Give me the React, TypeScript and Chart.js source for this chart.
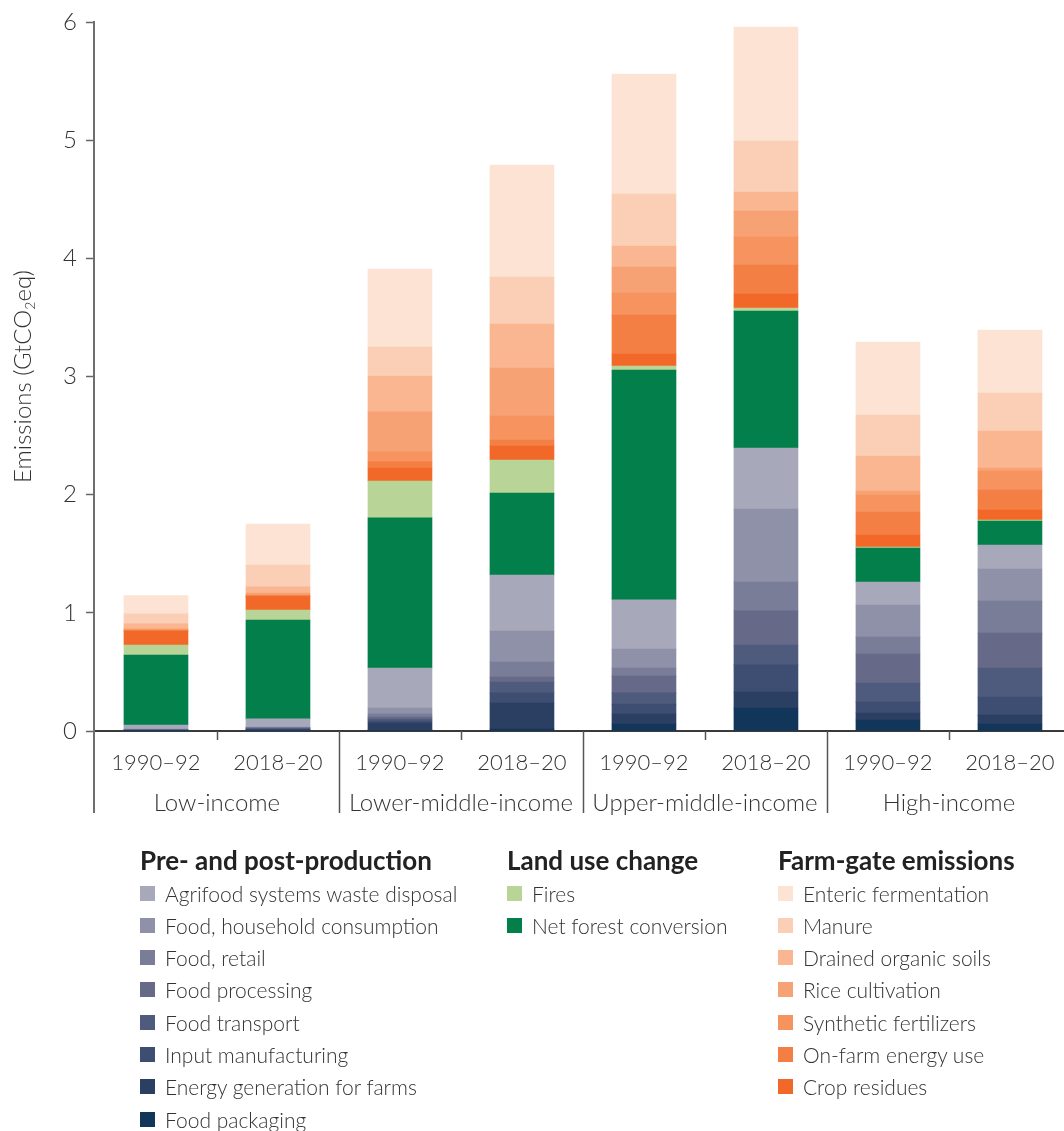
import React, { useEffect, useRef } from 'react';
import { Chart, registerables } from 'chart.js';

Chart.register(...registerables);

// ---- categories ----
const PERIODS = ['1990–92', '2018–20', '1990–92', '2018–20', '1990–92', '2018–20', '1990–92', '2018–20'];
const GROUPS = ['Low-income', 'Lower-middle-income', 'Upper-middle-income', 'High-income'];
const Y_TICKS = [0, 1, 2, 3, 4, 5, 6];

// ---- series values (GtCO2eq), order: Low, Lower-middle, Upper-middle, High ----
const foodPackaging = [0.002, 0.004, 0.013, 0.017, 0.059, 0.195, 0.093, 0.059];
const energyGeneration = [0.002, 0.005, 0.055, 0.22, 0.085, 0.135, 0.059, 0.076];
const inputManufacturing = [0.002, 0.005, 0.017, 0.085, 0.084, 0.229, 0.093, 0.153];
const foodTransport = [0.002, 0.006, 0.016, 0.093, 0.094, 0.169, 0.161, 0.245];
const foodProcessing = [0.003, 0.006, 0.017, 0.042, 0.143, 0.288, 0.246, 0.296];
const foodRetail = [0.002, 0.004, 0.026, 0.127, 0.068, 0.245, 0.143, 0.271];
const householdConsumption = [0.004, 0.004, 0.051, 0.262, 0.161, 0.618, 0.271, 0.271];
const wasteDisposal = [0.034, 0.068, 0.338, 0.474, 0.415, 0.516, 0.195, 0.203];
const netForestConversion = [0.592, 0.837, 1.27, 0.694, 1.946, 1.159, 0.288, 0.203];
const fires = [0.085, 0.085, 0.313, 0.279, 0.034, 0.026, 0.008, 0.008];
const cropResidues = [0.116, 0.113, 0.11, 0.119, 0.101, 0.118, 0.102, 0.085];
const onFarmEnergy = [0.007, 0.008, 0.051, 0.051, 0.33, 0.245, 0.194, 0.169];
const syntheticFertilizers = [0.007, 0.01, 0.085, 0.203, 0.187, 0.237, 0.144, 0.161];
const riceCultivation = [0.006, 0.013, 0.338, 0.406, 0.22, 0.22, 0.034, 0.026];
const drainedOrganicSoils = [0.042, 0.051, 0.304, 0.372, 0.177, 0.161, 0.296, 0.313];
const manure = [0.085, 0.186, 0.245, 0.398, 0.44, 0.432, 0.347, 0.321];
const entericFermentation = [0.155, 0.347, 0.66, 0.948, 1.016, 0.965, 0.618, 0.533];

// stacking order bottom -> top
const SERIES = [
  { label: 'Food packaging', data: foodPackaging, color: '#12365a' },
  { label: 'Energy generation for farms', data: energyGeneration, color: '#2b3f63' },
  { label: 'Input manufacturing', data: inputManufacturing, color: '#3d4e72' },
  { label: 'Food transport', data: foodTransport, color: '#4f5b7c' },
  { label: 'Food processing', data: foodProcessing, color: '#666a88' },
  { label: 'Food, retail', data: foodRetail, color: '#7a7d98' },
  { label: 'Food, household consumption', data: householdConsumption, color: '#8f91a8' },
  { label: 'Agrifood systems waste disposal', data: wasteDisposal, color: '#a7a8ba' },
  { label: 'Net forest conversion', data: netForestConversion, color: '#027f4b' },
  { label: 'Fires', data: fires, color: '#b8d496' },
  { label: 'Crop residues', data: cropResidues, color: '#f26829' },
  { label: 'On-farm energy use', data: onFarmEnergy, color: '#f47f45' },
  { label: 'Synthetic fertilizers', data: syntheticFertilizers, color: '#f6935f' },
  { label: 'Rice cultivation', data: riceCultivation, color: '#f7a274' },
  { label: 'Drained organic soils', data: drainedOrganicSoils, color: '#f9b690' },
  { label: 'Manure', data: manure, color: '#fbcfb5' },
  { label: 'Enteric fermentation', data: entericFermentation, color: '#fde3d4' },
];

const LEGEND_COLUMNS = [
  {
    title: 'Pre- and post-production',
    left: 140,
    items: [
      'Agrifood systems waste disposal',
      'Food, household consumption',
      'Food, retail',
      'Food processing',
      'Food transport',
      'Input manufacturing',
      'Energy generation for farms',
      'Food packaging',
    ],
  },
  { title: 'Land use change', left: 507, items: ['Fires', 'Net forest conversion'] },
  {
    title: 'Farm-gate emissions',
    left: 778,
    items: [
      'Enteric fermentation',
      'Manure',
      'Drained organic soils',
      'Rice cultivation',
      'Synthetic fertilizers',
      'On-farm energy use',
      'Crop residues',
    ],
  },
];

const FONT = 'Lato, "Open Sans", "DejaVu Sans", sans-serif';
const TEXT = '#333333';

const colorOf = (label: string) => SERIES.find((s) => s.label === label)!.color;

const decoPlugin = {
  id: 'deco',
  afterDraw(chart: any) {
    const ctx = chart.ctx as CanvasRenderingContext2D;
    const xs = chart.scales.x;
    const area = chart.chartArea;
    const bottom = area.bottom;
    ctx.save();
    // group separators (left one continues the y axis)
    ctx.strokeStyle = '#6e6e6e';
    ctx.lineWidth = 2;
    ctx.beginPath();
    ctx.moveTo(area.left, bottom);
    ctx.lineTo(area.left, bottom + 82);
    ctx.stroke();
    ctx.lineWidth = 1.5;
    ctx.strokeStyle = '#555555';
    [1.5, 3.5, 5.5].forEach((v) => {
      const px = Math.round(xs.getPixelForValue(v)) + 0.5;
      ctx.beginPath();
      ctx.moveTo(px, bottom);
      ctx.lineTo(px, bottom + 82);
      ctx.stroke();
    });
    // short ticks between periods
    [0.5, 2.5, 4.5, 6.5].forEach((v) => {
      const px = Math.round(xs.getPixelForValue(v)) + 0.5;
      ctx.beginPath();
      ctx.moveTo(px, bottom);
      ctx.lineTo(px, bottom + 9);
      ctx.stroke();
    });
    // group labels
    ctx.fillStyle = TEXT;
    ctx.font = `300 24px ${FONT}`;
    ctx.textAlign = 'center';
    ctx.textBaseline = 'middle';
    GROUPS.forEach((g, i) => {
      ctx.fillText(g, xs.getPixelForValue(0.5 + 2 * i), bottom + 72);
    });
    // y axis title with subscript
    const cy = (area.top + area.bottom) / 2;
    ctx.translate(23, cy);
    ctx.rotate(-Math.PI / 2);
    const big = `300 24px ${FONT}`;
    const small = `300 14px ${FONT}`;
    const p1 = 'Emissions (GtCO';
    const p2 = '2';
    const p3 = 'eq)';
    ctx.font = big;
    const w1 = ctx.measureText(p1).width;
    const w3 = ctx.measureText(p3).width;
    ctx.font = small;
    const w2 = ctx.measureText(p2).width;
    const total = w1 + w2 + w3;
    let x0 = -total / 2;
    ctx.textAlign = 'left';
    ctx.font = big;
    ctx.fillText(p1, x0, 0);
    x0 += w1;
    ctx.font = small;
    ctx.fillText(p2, x0, 7);
    x0 += w2;
    ctx.font = big;
    ctx.fillText(p3, x0, 0);
    ctx.restore();
  },
};

function EmissionsChart() {
  const ref = useRef<HTMLCanvasElement | null>(null);
  useEffect(() => {
    if (!ref.current) return;
    const chart = new Chart(ref.current, {
      type: 'bar',
      data: {
        datasets: SERIES.map((s) => ({
          label: s.label,
          data: s.data.map((v, i) => ({ x: i, y: v })),
          backgroundColor: s.color,
          borderWidth: 0,
          barThickness: 64,
        })),
      },
      options: {
        responsive: false,
        animation: false,
        devicePixelRatio: 1,
        layout: { padding: { top: 22, left: 0, right: 0, bottom: 0 } },
        plugins: { legend: { display: false }, tooltip: { enabled: false } },
        scales: {
          x: {
            type: 'linear',
            stacked: true,
            offset: false,
            min: -0.508,
            max: 7.443,
            afterFit: (axis: any) => {
              axis.height = 99;
              axis.paddingLeft = 0;
              axis.paddingRight = 0;
            },
            afterBuildTicks: (axis: any) => {
              axis.ticks = PERIODS.map((_, i) => ({ value: i }));
            },
            grid: { display: false, drawTicks: false, offset: false },
            border: { display: true, color: '#3a3a3a', width: 2 },
            ticks: {
              autoSkip: false,
              maxRotation: 0,
              padding: 19,
              color: TEXT,
              font: { family: FONT, size: 22, weight: '300' as any },
              callback: (v: any) => PERIODS[Math.round(Number(v))] ?? '',
            },
          },
          y: {
            stacked: true,
            min: 0,
            max: 6,
            afterFit: (axis: any) => {
              axis.width = 94;
              axis.paddingTop = 0;
              axis.paddingBottom = 0;
            },
            afterBuildTicks: (axis: any) => {
              axis.ticks = Y_TICKS.map((v) => ({ value: v }));
            },
            grid: {
              display: true,
              drawOnChartArea: false,
              drawTicks: true,
              tickLength: 8,
              tickWidth: 1.5,
              tickColor: '#666666',
            },
            border: { display: true, color: '#6e6e6e', width: 2 },
            ticks: {
              padding: 9,
              color: TEXT,
              font: { family: FONT, size: 24, weight: '300' as any },
              callback: (v: any) => String(v),
            },
          },
        },
      },
      plugins: [decoPlugin],
    });
    return () => chart.destroy();
  }, []);
  return (
    <canvas
      ref={ref}
      width={1064}
      height={830}
      style={{ position: 'absolute', left: 0, top: 0, width: 1064, height: 830 }}
    />
  );
}

function Legend() {
  const rowTop = (i: number) => 893 + 32.3 * i;
  return (
    <div style={{ position: 'absolute', left: 0, top: 0, width: 1064, height: 1131, pointerEvents: 'none' }}>
      {LEGEND_COLUMNS.map((col) => (
        <React.Fragment key={col.title}>
          <div
            style={{
              position: 'absolute',
              left: col.left,
              top: 845,
              height: 30,
              lineHeight: '30px',
              fontFamily: FONT,
              fontWeight: 700,
              fontSize: 26,
              color: '#222222',
              whiteSpace: 'nowrap',
            }}
          >
            {col.title}
          </div>
          {col.items.map((item, i) => (
            <div
              key={item}
              style={{
                position: 'absolute',
                left: col.left,
                top: rowTop(i) - 13,
                height: 26,
                display: 'flex',
                alignItems: 'center',
                whiteSpace: 'nowrap',
                fontFamily: FONT,
                fontWeight: 300,
                fontSize: 21,
                color: TEXT,
              }}
            >
              <span
                style={{
                  display: 'inline-block',
                  width: 15,
                  height: 15,
                  background: colorOf(item),
                  marginRight: 10,
                  flex: 'none',
                }}
              />
              <span>{item}</span>
            </div>
          ))}
        </React.Fragment>
      ))}
    </div>
  );
}

export default function App() {
  return (
    <div style={{ position: 'absolute', left: 0, top: 0, width: 1064, height: 1131, overflow: 'hidden' }}>
      <EmissionsChart />
      <Legend />
    </div>
  );
}
